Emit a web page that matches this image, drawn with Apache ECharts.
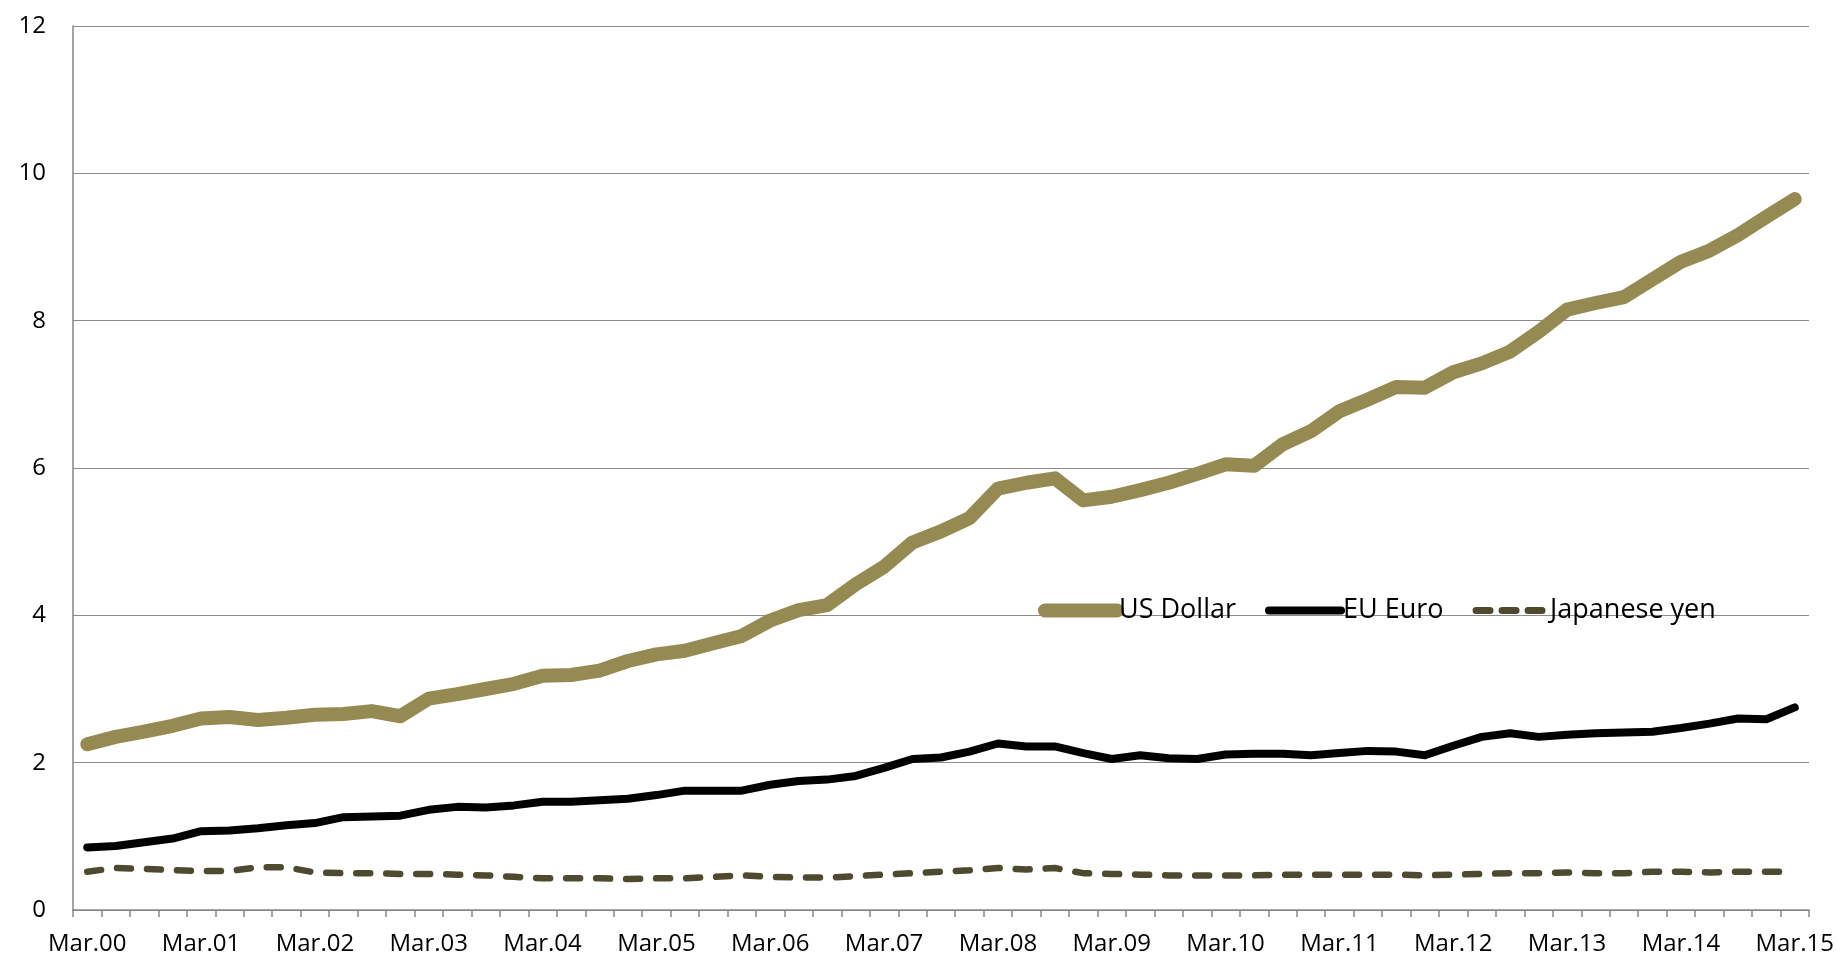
<!DOCTYPE html>
<html>
<head>
<meta charset="utf-8">
<script src="https://cdn.jsdelivr.net/npm/echarts@6/dist/echarts.min.js"></script>
<style>
html,body{margin:0;padding:0;background:#fff;}
#chart{width:1837px;height:956px;}
</style>
</head>
<body>
<div id="chart"></div>
<script>
const categories = [];
const years = ['00','01','02','03','04','05','06','07','08','09','10','11','12','13','14','15'];
const quarters = ['Mar.','Jun.','Sep.','Dec.'];
for (let y = 0; y < years.length; y++) {
  for (let q = 0; q < 4; q++) {
    if (y === years.length - 1 && q > 0) break;
    categories.push(quarters[q] + years[y]);
  }
}
const usDollar = [2.25,2.35,2.42,2.5,2.6,2.62,2.58,2.61,2.65,2.66,2.7,2.63,2.87,2.93,3.0,3.07,3.18,3.19,3.25,3.38,3.47,3.52,3.62,3.72,3.93,4.07,4.14,4.42,4.66,4.99,5.14,5.32,5.72,5.80,5.86,5.56,5.61,5.70,5.80,5.92,6.05,6.03,6.32,6.50,6.77,6.93,7.10,7.09,7.30,7.42,7.58,7.85,8.15,8.24,8.32,8.56,8.80,8.95,9.16,9.41,9.65];
const euEuro = [0.85,0.87,0.92,0.97,1.07,1.08,1.11,1.15,1.18,1.26,1.27,1.28,1.36,1.40,1.39,1.42,1.47,1.47,1.49,1.51,1.56,1.62,1.62,1.62,1.70,1.75,1.77,1.82,1.93,2.05,2.07,2.15,2.26,2.22,2.22,2.13,2.05,2.10,2.06,2.05,2.11,2.12,2.12,2.10,2.13,2.16,2.15,2.10,2.23,2.35,2.40,2.35,2.38,2.40,2.41,2.42,2.47,2.53,2.60,2.59,2.75];
const japaneseYen = [0.52,0.57,0.56,0.54,0.53,0.53,0.58,0.58,0.51,0.50,0.50,0.49,0.49,0.48,0.47,0.45,0.43,0.43,0.43,0.42,0.43,0.43,0.45,0.47,0.45,0.44,0.44,0.46,0.48,0.50,0.52,0.54,0.57,0.55,0.57,0.50,0.49,0.48,0.47,0.47,0.47,0.47,0.48,0.48,0.48,0.48,0.48,0.47,0.48,0.49,0.50,0.50,0.51,0.50,0.50,0.52,0.52,0.51,0.52,0.52,0.52];
const seriesNames = ['US Dollar','EU Euro','Japanese yen'];

const chart = echarts.init(document.getElementById('chart'), null, {renderer:'canvas'});
const font = 'Open Sans';
chart.setOption({
  animation: false,
  backgroundColor: '#ffffff',
  grid: {left: 73, right: 27, top: 26, bottom: 46, containLabel: false},
  legend: {
    left: 1033, top: 592,
    itemWidth: 72, itemHeight: 14, itemGap: 29,
    itemStyle: {opacity: 0},
    textStyle: {fontFamily: font, fontSize: 27, color: '#000', padding: [0,0,0,-3]},
    data: [
      {name: seriesNames[0], lineStyle: {width: 14, cap: 'round', color: '#958b52'}},
      {name: seriesNames[1], lineStyle: {width: 8, cap: 'round', color: '#000000'}},
      {name: seriesNames[2], lineStyle: {width: 7, cap: 'round', color: '#4e4a2f', type: [14, 12]}}
    ]
  },
  xAxis: {
    type: 'category',
    boundaryGap: true,
    data: categories,
    axisLine: {lineStyle: {color: '#868686', width: 1.5}},
    axisTick: {show: true, interval: 0, length: 7, lineStyle: {color: '#868686', width: 1.5}},
    axisLabel: {interval: 3, color: '#000', fontFamily: font, fontSize: 24, margin: 22}
  },
  yAxis: {
    type: 'value', min: 0, max: 12, interval: 2,
    axisLine: {show: true, lineStyle: {color: '#868686', width: 1.5}},
    axisTick: {show: false},
    splitLine: {lineStyle: {color: '#8c8c8c', width: 1.2}},
    axisLabel: {color: '#000', fontFamily: font, fontSize: 24, margin: 27}
  },
  series: [
    {name: seriesNames[0], type: 'line', data: usDollar, symbol: 'none',
     lineStyle: {color: '#958b52', width: 14, cap: 'round', join: 'round'}, itemStyle: {color: '#958b52'}},
    {name: seriesNames[1], type: 'line', data: euEuro, symbol: 'none',
     lineStyle: {color: '#000000', width: 8, cap: 'round', join: 'round'}, itemStyle: {color: '#000000'}},
    {name: seriesNames[2], type: 'line', data: japaneseYen, symbol: 'none',
     lineStyle: {color: '#4e4a2f', width: 6.5, type: [14, 16], cap: 'round', join: 'round'}, itemStyle: {color: '#4e4a2f'}}
  ]
});
</script>
</body>
</html>
